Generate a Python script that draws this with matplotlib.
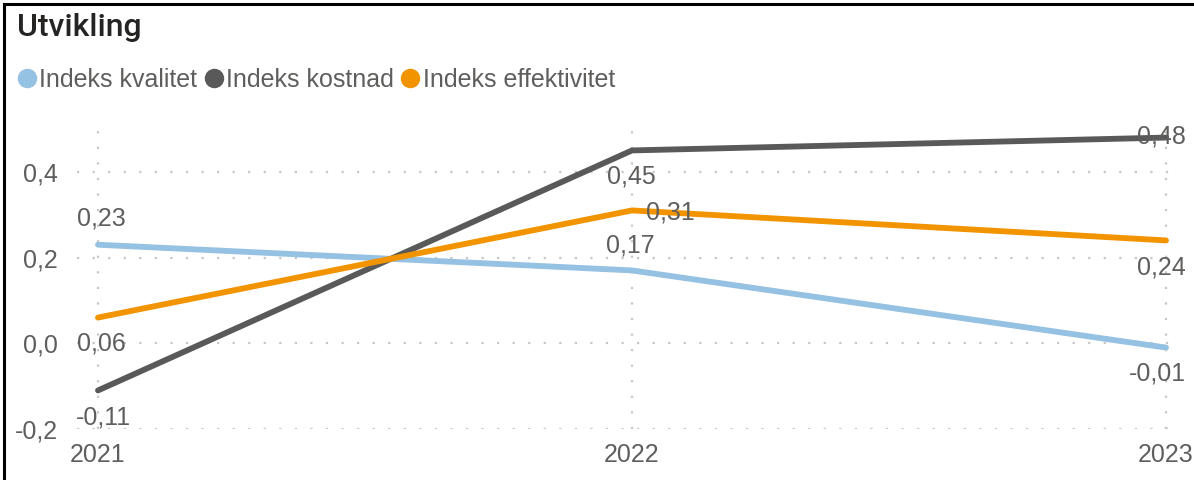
import matplotlib
matplotlib.use("Agg")
import matplotlib.pyplot as plt
from matplotlib.lines import Line2D
from matplotlib.ticker import FuncFormatter

years = [2021, 2022, 2023]
series_names = ["Indeks kvalitet", "Indeks kostnad", "Indeks effektivitet"]
kvalitet = [0.23, 0.17, -0.01]
kostnad = [-0.11, 0.45, 0.48]
effektivitet = [0.06, 0.31, 0.24]
y_ticks = [-0.2, 0.0, 0.2, 0.4]
title = "Utvikling"

colors = ["#95C1E2", "#595959", "#F29400"]
label_color = "#605E5C"
grid_color = "#C8C6C4"
FONT = "Liberation Sans"
FS = 18

# label offsets in pixels (dx, dy) per series per point (layout only)
offsets = [
    [(3, 26), (-2, 25), (-9, -26)],
    [(5, -27), (-1, -26), (-5, 1)],
    [(3, -26), (38, -2), (-5, -27)],
]

W, H, DPI = 1194, 480, 100
fig = plt.figure(figsize=(W / DPI, H / DPI), dpi=DPI)
ax = fig.add_axes([77 / W, 1 - 429 / H, (1180 - 77) / W, (429 - 129) / H])

data = [kvalitet, kostnad, effektivitet]
for i, (name, vals) in enumerate(zip(series_names, data)):
    ax.plot(years, vals, color=colors[i], lw=4.2, solid_capstyle="round",
            zorder=3 + i, label=name)

for i, vals in enumerate(data):
    for j, (x, y) in enumerate(zip(years, vals)):
        dx, dy = offsets[i][j]
        ax.annotate(f"{y:.2f}".replace(".", ","), (x, y),
                    xytext=(dx * 0.72, dy * 0.72), textcoords="offset points",
                    ha="center", va="center", fontsize=FS, color=label_color,
                    family=FONT, zorder=10)

ax.set_xlim(2021 - 21 / 534, 2023 + 14 / 534)
ax.set_ylim(-0.2, 0.5)
ax.set_xticks(years)
ax.set_xticklabels([str(y) for y in years])
ax.set_yticks(y_ticks)
ax.yaxis.set_major_formatter(FuncFormatter(lambda v, p: f"{v:.1f}".replace(".", ",").replace("-0,0", "0,0")))
ax.grid(True, color=grid_color, linestyle=(0, (1, 6)), linewidth=1.6)
ax.set_axisbelow(True)
for s in ax.spines.values():
    s.set_visible(False)
ax.tick_params(length=0, labelsize=FS, labelcolor=label_color)
ax.tick_params(axis="y", pad=14)
ax.tick_params(axis="x", pad=10)
for lab in ax.get_xticklabels() + ax.get_yticklabels():
    lab.set_family(FONT)

# title
fig.text(17 / W, 1 - 36 / H, title, fontsize=23, color="#252423",
         family="Roboto", weight="medium", ha="left", va="baseline")

# legend
handles = [Line2D([], [], marker="o", linestyle="none", markersize=13,
                  markerfacecolor=c, markeredgecolor=c) for c in colors]
fig.legend(handles, series_names, loc="center left",
           bbox_to_anchor=(18 / W, 1 - 80 / H), ncol=3, frameon=False,
           handlelength=0.7, handletextpad=0.15, columnspacing=0.3,
           borderpad=0, borderaxespad=0,
           prop={"family": FONT, "size": FS}, labelcolor=label_color)

# border (top and left)
fig.add_artist(Line2D([4 / W, 4 / W], [0, 1 - 4 / H], color="black", lw=2.2,
                      transform=fig.transFigure))
fig.add_artist(Line2D([4 / W, 1], [1 - 4 / H, 1 - 4 / H], color="black", lw=2.2,
                      transform=fig.transFigure))

fig.savefig("out.png", dpi=DPI, facecolor="white")
